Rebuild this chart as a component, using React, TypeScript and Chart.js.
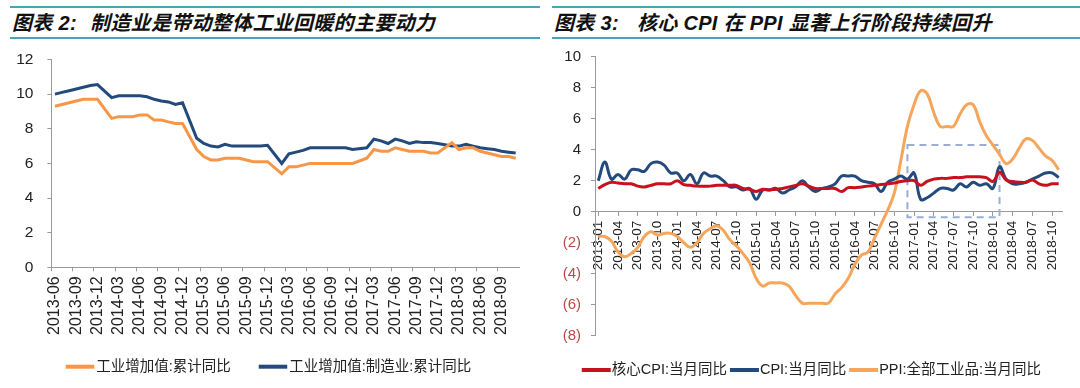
import React, { useEffect, useRef } from 'react';
import { Chart, registerables } from 'chart.js';

Chart.register(...registerables);

// ---------- Chart 2 data (cumulative YoY, monthly; January not published) ----------
const leftMonths = [
  '2013-06', '2013-07', '2013-08', '2013-09', '2013-10', '2013-11', '2013-12',
  '2014-01', '2014-02', '2014-03', '2014-04', '2014-05', '2014-06', '2014-07', '2014-08', '2014-09', '2014-10', '2014-11', '2014-12',
  '2015-01', '2015-02', '2015-03', '2015-04', '2015-05', '2015-06', '2015-07', '2015-08', '2015-09', '2015-10', '2015-11', '2015-12',
  '2016-01', '2016-02', '2016-03', '2016-04', '2016-05', '2016-06', '2016-07', '2016-08', '2016-09', '2016-10', '2016-11', '2016-12',
  '2017-01', '2017-02', '2017-03', '2017-04', '2017-05', '2017-06', '2017-07', '2017-08', '2017-09', '2017-10', '2017-11', '2017-12',
  '2018-01', '2018-02', '2018-03', '2018-04', '2018-05', '2018-06', '2018-07', '2018-08', '2018-09', '2018-10', '2018-11',
];
const industryCum = [
  9.3, 9.4, 9.5, 9.6, 9.7, 9.7, 9.7,
  null, 8.6, 8.7, 8.7, 8.7, 8.8, 8.8, 8.5, 8.5, 8.4, 8.3, 8.3,
  null, 6.8, 6.4, 6.2, 6.2, 6.3, 6.3, 6.3, 6.2, 6.1, 6.1, 6.1,
  null, 5.4, 5.8, 5.8, 5.9, 6.0, 6.0, 6.0, 6.0, 6.0, 6.0, 6.0,
  null, 6.3, 6.8, 6.7, 6.7, 6.9, 6.8, 6.7, 6.7, 6.7, 6.6, 6.6,
  null, 7.2, 6.8, 6.9, 6.9, 6.7, 6.6, 6.5, 6.4, 6.4, 6.3,
];
const manufacturingCum = [
  10.0, 10.1, 10.2, 10.3, 10.4, 10.5, 10.55,
  null, 9.8, 9.9, 9.9, 9.9, 9.9, 9.85, 9.7, 9.6, 9.55, 9.4, 9.5,
  null, 7.45, 7.15, 7.0, 6.95, 7.1, 7.0, 7.0, 7.0, 7.0, 7.0, 7.05,
  null, 6.0, 6.55, 6.65, 6.75, 6.9, 6.9, 6.9, 6.9, 6.9, 6.9, 6.8,
  null, 6.9, 7.4, 7.3, 7.15, 7.4, 7.3, 7.15, 7.25, 7.2, 7.2, 7.15,
  null, 7.0, 7.0, 7.1, 7.0, 6.9, 6.85, 6.8, 6.7, 6.65, 6.6,
];
const leftYTicks = { min: 0, max: 12, step: 2 };

// ---------- Chart 3 data (monthly YoY) ----------
const rightMonths = [
  '2013-01', '2013-02', '2013-03', '2013-04', '2013-05', '2013-06', '2013-07', '2013-08', '2013-09', '2013-10', '2013-11', '2013-12',
  '2014-01', '2014-02', '2014-03', '2014-04', '2014-05', '2014-06', '2014-07', '2014-08', '2014-09', '2014-10', '2014-11', '2014-12',
  '2015-01', '2015-02', '2015-03', '2015-04', '2015-05', '2015-06', '2015-07', '2015-08', '2015-09', '2015-10', '2015-11', '2015-12',
  '2016-01', '2016-02', '2016-03', '2016-04', '2016-05', '2016-06', '2016-07', '2016-08', '2016-09', '2016-10', '2016-11', '2016-12',
  '2017-01', '2017-02', '2017-03', '2017-04', '2017-05', '2017-06', '2017-07', '2017-08', '2017-09', '2017-10', '2017-11', '2017-12',
  '2018-01', '2018-02', '2018-03', '2018-04', '2018-05', '2018-06', '2018-07', '2018-08', '2018-09', '2018-10', '2018-11',
];
const coreCpi = [
  1.5, 1.75, 1.9, 1.85, 1.8, 1.8, 1.65, 1.6, 1.7, 1.8, 1.8, 1.8,
  2.0, 1.75, 1.7, 1.65, 1.65, 1.65, 1.7, 1.7, 1.7, 1.7, 1.5, 1.45,
  1.3, 1.45, 1.4, 1.45, 1.5, 1.6, 1.7, 1.8, 1.65, 1.5, 1.5, 1.5,
  1.5, 1.3, 1.55, 1.55, 1.6, 1.65, 1.7, 1.75, 1.8, 1.85, 1.95, 2.0,
  2.0, 1.7, 1.95, 2.1, 2.15, 2.15, 2.2, 2.2, 2.25, 2.25, 2.25, 2.2,
  1.95, 2.55, 2.05, 1.95, 1.9, 1.9, 2.05, 1.8, 1.7, 1.8, 1.8,
];
const cpi = [
  2.0, 3.2, 2.1, 2.4, 2.1, 2.7, 2.7, 2.6, 3.1, 3.2, 3.0, 2.5,
  2.5, 2.0, 2.4, 1.8, 2.5, 2.3, 2.3, 2.0, 1.6, 1.6, 1.4, 1.5,
  0.8, 1.4, 1.4, 1.5, 1.2, 1.4, 1.6, 2.0, 1.6, 1.3, 1.5, 1.6,
  1.8, 2.3, 2.3, 2.3, 2.0, 1.9, 1.8, 1.3, 1.9, 2.1, 2.3, 2.1,
  2.5, 0.8, 0.9, 1.2, 1.5, 1.5, 1.4, 1.8, 1.6, 1.9, 1.7, 1.8,
  1.5, 2.9, 2.1, 1.8, 1.8, 1.9, 2.1, 2.3, 2.5, 2.5, 2.2,
];
const ppi = [
  -1.6, -1.6, -1.9, -2.6, -2.9, -2.7, -2.3, -1.6, -1.3, -1.5, -1.4, -1.4,
  -1.6, -2.0, -2.3, -2.0, -1.4, -1.1, -0.9, -1.2, -1.8, -2.2, -2.7, -3.3,
  -4.3, -4.8, -4.6, -4.6, -4.6, -4.8, -5.4, -5.9, -5.9, -5.9, -5.9, -5.9,
  -5.3, -4.9, -4.3, -3.4, -2.8, -2.6, -1.7, -0.8, 0.1, 1.2, 3.3, 5.5,
  6.9, 7.8, 7.6, 6.4, 5.5, 5.5, 5.5, 6.3, 6.9, 6.9, 5.8, 4.9,
  4.3, 3.7, 3.1, 3.4, 4.1, 4.7, 4.6, 4.1, 3.6, 3.3, 2.7,
];
const rightYTicks = { min: -8, max: 10, step: 2 };
// highlighted period (dashed frame): category range and value range
const highlightFrom = '2016-12';
const highlightTo = '2018-02';
const highlightLow = -0.35;
const highlightHigh = 4.3;

const FONT = "'Liberation Sans', Arial, 'Noto Sans CJK SC', sans-serif";
const TEAL = '#4aa3b6';

const lineLegend = {
  id: 'lineLegend',
  afterDraw(chart: any, _args: any, opts: any) {
    const { ctx } = chart;
    ctx.save();
    ctx.font = `${opts.fontSize}px ${FONT}`;
    const items = chart.data.datasets.map((ds: any) => ({ text: ds.label, color: ds.borderColor }));
    const widths = items.map((it: any) => opts.boxWidth + opts.boxGap + ctx.measureText(it.text).width);
    const total = widths.reduce((a: number, b: number) => a + b, 0) + opts.itemGap * (items.length - 1);
    let x = opts.centerX - total / 2;
    items.forEach((it: any, i: number) => {
      ctx.fillStyle = it.color;
      ctx.fillRect(x, opts.y - opts.boxHeight / 2, opts.boxWidth, opts.boxHeight);
      ctx.fillStyle = opts.color;
      ctx.textAlign = 'left';
      ctx.textBaseline = 'middle';
      ctx.fillText(it.text, x + opts.boxWidth + opts.boxGap, opts.y);
      x += widths[i] + opts.itemGap;
    });
    ctx.restore();
  },
};

const frameBox = {
  id: 'frameBox',
  beforeDatasetsDraw(chart: any, _args: any, opts: any) {
    if (!opts || !opts.from) return;
    const xs = chart.scales.x;
    const ys = chart.scales.y;
    const x1 = xs.getPixelForValue(chart.data.labels.indexOf(opts.from));
    const x2 = xs.getPixelForValue(chart.data.labels.indexOf(opts.to));
    const y1 = ys.getPixelForValue(opts.high);
    const y2 = ys.getPixelForValue(opts.low);
    const { ctx } = chart;
    ctx.save();
    ctx.strokeStyle = opts.color;
    ctx.lineWidth = 2;
    ctx.setLineDash([7, 5]);
    ctx.strokeRect(x1, y1, x2 - x1, y2 - y1);
    ctx.restore();
  },
};

function LeftChart() {
  const ref = useRef<HTMLCanvasElement>(null);
  useEffect(() => {
    const chart = new Chart(ref.current as HTMLCanvasElement, {
      type: 'line',
      data: {
        labels: leftMonths,
        datasets: [
          { label: '工业增加值:累计同比', data: industryCum, borderColor: '#F79646', backgroundColor: '#F79646', borderWidth: 3, pointRadius: 0, tension: 0, spanGaps: true },
          { label: '工业增加值:制造业:累计同比', data: manufacturingCum, borderColor: '#234A7C', backgroundColor: '#234A7C', borderWidth: 3, pointRadius: 0, tension: 0, spanGaps: true },
        ],
      },
      plugins: [lineLegend],
      options: {
        responsive: false,
        animation: false,
        events: [],
        layout: { padding: { left: 0, right: 14.4, top: 59.5, bottom: 40.7 } },
        plugins: {
          legend: { display: false },
          tooltip: { enabled: false },
          lineLegend: { fontSize: 14.5, boxWidth: 28.5, boxHeight: 4, boxGap: 2, itemGap: 28, centerX: 268.5, y: 366.7, color: '#222' },
        } as any,
        scales: {
          x: {
            type: 'category',
            offset: true,
            afterFit: (s: any) => { s.height = 80; },
            border: { color: '#9a9a9a', width: 1 },
            grid: { drawOnChartArea: false, offset: true, tickLength: 4, color: (c: any) => (c.index % 3 === 0 ? '#9a9a9a' : 'rgba(0,0,0,0)') },
            ticks: {
              autoSkip: false, maxRotation: 90, minRotation: 90, padding: 5,
              font: { family: FONT, size: 16 }, color: '#222',
              callback: (_v: any, i: number) => (i % 3 === 0 ? leftMonths[i] : ''),
            },
          },
          y: {
            min: leftYTicks.min, max: leftYTicks.max,
            afterFit: (s: any) => { s.width = 51.4; },
            border: { color: '#9a9a9a', width: 1 },
            grid: { drawOnChartArea: false, tickLength: 4, color: '#9a9a9a' },
            ticks: { stepSize: leftYTicks.step, padding: 14, font: { family: FONT, size: 15.5 }, color: '#222' },
          },
        },
      },
    } as any);
    return () => chart.destroy();
  }, []);
  return <canvas ref={ref} width={540} height={388} style={{ position: 'absolute', left: 0, top: 0, width: 540, height: 388 }} />;
}

function RightChart() {
  const ref = useRef<HTMLCanvasElement>(null);
  useEffect(() => {
    const chart = new Chart(ref.current as HTMLCanvasElement, {
      type: 'line',
      data: {
        labels: rightMonths,
        datasets: [
          { label: '核心CPI:当月同比', data: coreCpi, borderColor: '#C8101E', backgroundColor: '#C8101E', borderWidth: 3, pointRadius: 0, tension: 0.4 },
          { label: 'CPI:当月同比', data: cpi, borderColor: '#234A7C', backgroundColor: '#234A7C', borderWidth: 3, pointRadius: 0, tension: 0.4 },
          { label: 'PPI:全部工业品:当月同比', data: ppi, borderColor: '#F6A65A', backgroundColor: '#F6A65A', borderWidth: 3, pointRadius: 0, tension: 0.4 },
        ],
      },
      plugins: [lineLegend, frameBox],
      options: {
        responsive: false,
        animation: false,
        events: [],
        layout: { padding: { left: 0, right: 12.4, top: 56.7, bottom: 52.3 } },
        plugins: {
          legend: { display: false },
          tooltip: { enabled: false },
          lineLegend: { fontSize: 14.5, boxWidth: 29, boxHeight: 4, boxGap: 1, itemGap: 3, centerX: 271.4, y: 370, color: '#222' },
          frameBox: { from: highlightFrom, to: highlightTo, low: highlightLow, high: highlightHigh, color: '#9AAED4' },
        } as any,
        scales: {
          x: {
            type: 'category',
            offset: true,
            position: { y: 0 },
            border: { color: '#9a9a9a', width: 1 },
            grid: { drawOnChartArea: false, offset: false, tickLength: 4, color: (c: any) => (c.index % 3 === 0 ? '#9a9a9a' : 'rgba(0,0,0,0)') },
            ticks: {
              autoSkip: false, maxRotation: 90, minRotation: 90, padding: 5,
              font: { family: FONT, size: 13.5 }, color: '#222',
              callback: (_v: any, i: number) => (i % 3 === 0 ? rightMonths[i] : ''),
            },
          },
          y: {
            min: rightYTicks.min, max: rightYTicks.max,
            afterFit: (s: any) => { s.width = 55; },
            border: { color: '#9a9a9a', width: 1 },
            grid: { drawOnChartArea: false, tickLength: 4, color: '#9a9a9a' },
            ticks: {
              stepSize: rightYTicks.step, padding: 10, font: { family: FONT, size: 15 },
              color: (c: any) => (c.tick && c.tick.value < 0 ? '#B84A45' : '#222'),
              callback: (v: any) => (v < 0 ? `(${-v})` : `${v}`),
            },
          },
        },
      },
    } as any);
    return () => chart.destroy();
  }, []);
  return <canvas ref={ref} width={540} height={388} style={{ position: 'absolute', left: 540, top: 0, width: 540, height: 388 }} />;
}

function TitleBar(props: { left: number; width: number; prefix: string; text: string; textLeft: number }) {
  const { left, width, prefix, text, textLeft } = props;
  const font: React.CSSProperties = {
    position: 'absolute', top: 9, fontFamily: "'Liberation Sans', Arial, 'Noto Sans CJK SC', sans-serif",
    fontWeight: 'bold', fontStyle: 'italic', fontSize: 20, lineHeight: '28px', color: '#111', whiteSpace: 'nowrap', letterSpacing: 0.3,
  };
  return (
    <>
      <div style={{ position: 'absolute', left, top: 6, width, height: 2, background: TEAL }} />
      <div style={{ position: 'absolute', left, top: 37, width, height: 2, background: TEAL }} />
      <div style={{ ...font, left: left + 2 }}>{prefix}</div>
      <div style={{ ...font, left: textLeft }}>{text}</div>
    </>
  );
}

export default function App() {
  return (
    <div style={{ position: 'fixed', left: 0, top: 0, width: 1080, height: 388, background: '#fff', overflow: 'hidden' }}>
      <TitleBar left={10} width={530} prefix="图表 2:" text="制造业是带动整体工业回暖的主要动力" textLeft={90} />
      <TitleBar left={552} width={528} prefix="图表 3:" text="核心 CPI 在 PPI 显著上行阶段持续回升" textLeft={637} />
      <LeftChart />
      <RightChart />
    </div>
  );
}
